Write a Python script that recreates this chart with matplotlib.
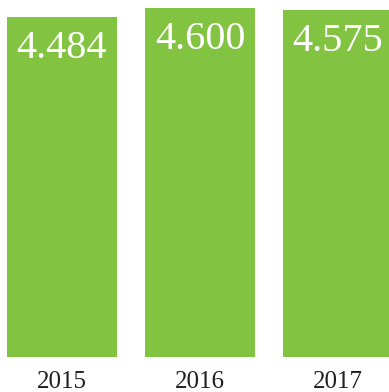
import matplotlib.pyplot as plt

years = ['2015', '2016', '2017']
values = [4.484, 4.600, 4.575]
labels = ['4.484', '4.600', '4.575']

green = '#82c341'

fig = plt.figure(figsize=(3.89, 3.92), dpi=100)
ax = fig.add_axes([0, 35 / 392, 1, 357 / 392])

x = range(len(years))
ax.bar(x, values, width=0.797, color=green)

for xi, v, lab in zip(x, values, labels):
    ax.text(xi, v, lab, ha='center', va='top', color='white',
            fontname='Liberation Serif', fontsize=29,
            transform=ax.transData,
            ).set_position((xi, v - 0.17))

ax.set_xlim(-0.449, 2.37)
ax.set_ylim(0, 4.705)
ax.set_xticks(list(x))
ax.set_xticklabels(years, fontname='Liberation Serif', fontsize=18, color='#231f20')
ax.tick_params(axis='x', length=0, pad=10)
ax.set_yticks([])
for s in ax.spines.values():
    s.set_visible(False)

fig.savefig('out.png', dpi=100)
